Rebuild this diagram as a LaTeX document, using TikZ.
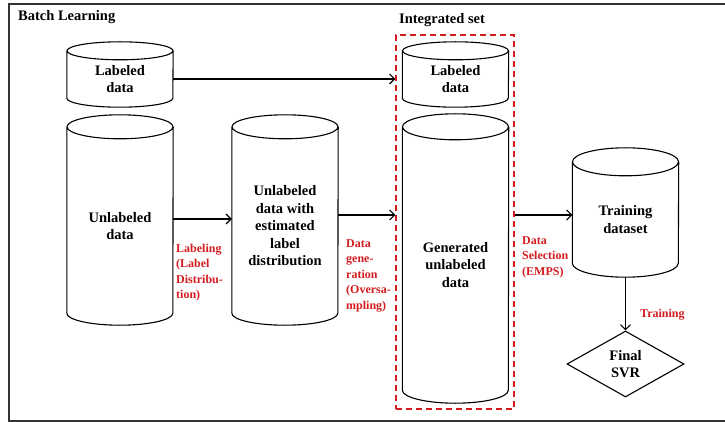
\documentclass[tikz,border=0pt]{standalone}
\usepackage{fontspec}
\setmainfont{Liberation Serif}
\usetikzlibrary{arrows,arrows.meta,shapes}
\definecolor{notered}{RGB}{212,28,32}
\tikzstyle{drum}=[rectangle,minimum width=106pt,inner sep=0pt,align=center,font=\bfseries\fontsize{14.5}{17.5}\selectfont]
\tikzstyle{note}=[anchor=base west,align=left,inner sep=0pt,text=notered,font=\bfseries\fontsize{12}{15.5}\selectfont]
\tikzstyle{edge} = [draw,line width=1.1pt,-{Straight Barb[length=5pt,width=10pt]}]

\begin{document}
\begin{tikzpicture}[x=1pt,y=1pt]
    \useasboundingbox (0,0) rectangle (725,-422);
    % Outer frame, its right side runs off the page
    \draw[line width=1.6pt,black!80] (725,-4) -- (9,-4) -- (9,-421) -- (725,-421);
    \node[anchor=base west,inner sep=0pt,font=\bfseries\fontsize{14.5}{17.5}\selectfont] (batch) at (18,-21) {Batch Learning};

    % First we place the cylinder bodies (top ellipse centre down to the bottom)
    \foreach \pos/\h/\name/\txt in {{(120,-79)/56pt/lab/{Labeled\\data}}, {(120,-226)/198pt/unl/{Unlabeled\\data}}, {(285,-226)/198pt/est/{Unlabeled\\data with\\estimated\\label\\distribution}}, {(455.5,-79)/56pt/labi/{Labeled\\data}}, {(455.5,-265)/276pt/gen/{Generated\\unlabeled\\data}}, {(625.5,-219.5)/115pt/train/{Training\\dataset}}}
        \node[drum,minimum height=\h] (\name) at \pos {\txt};

    % Then the outlines
    \foreach \name/\ry in {lab/9, unl/12, est/12, labi/9, gen/13, train/14}
        \draw[line width=1.1pt] (\name.north west) -- ([yshift=\ry pt]\name.south west)
            arc[start angle=180,end angle=360,x radius=53pt,y radius=\ry pt] -- (\name.north east)
            (\name.north) ellipse [x radius=53pt,y radius=\ry pt];

    % Integrated set
    \node[draw=notered,line width=1.4pt,dash pattern=on 6pt off 4pt,minimum width=118pt,minimum height=374pt] (integ) at (455,-222) {};
    \node[anchor=base west,inner sep=0pt,font=\bfseries\fontsize{14.5}{17.5}\selectfont] (settitle) at (399,-24) {Integrated set};

    \node[diamond,draw,line width=1.1pt,aspect=1.8,minimum width=117pt,minimum height=66pt,inner sep=0pt,align=center,font=\bfseries\fontsize{14.5}{17.5}\selectfont] (svr) at (625.5,-364) {Final\\SVR};

    % Connect them
    \path[edge] (lab.east) -- (lab.east -| integ.west);
    \path[edge] ([yshift=7pt]unl.east) -- ([yshift=7pt]est.west);
    \path[edge] ([yshift=11pt]est.east) -- ([yshift=11pt]est.east -| integ.west);
    \path[edge] ([yshift=7pt]integ.east) -- ([yshift=7pt]integ.east -| train.west);
    \path[edge] (train) -- (svr);

    % Step labels in red (base is the last line)
    \node[note] (labeling) at (176,-298.5) {Labeling\\(Label\\Distribu-\\tion)};
    \node[note] (generation) at (346,-309) {Data\\gene-\\ration\\(Oversa-\\mpling)};
    \node[note] (selection) at (522,-275) {Data\\Selection\\(EMPS)};
    \node[note] (training) at (640,-317) {Training};
\end{tikzpicture}
\end{document}
